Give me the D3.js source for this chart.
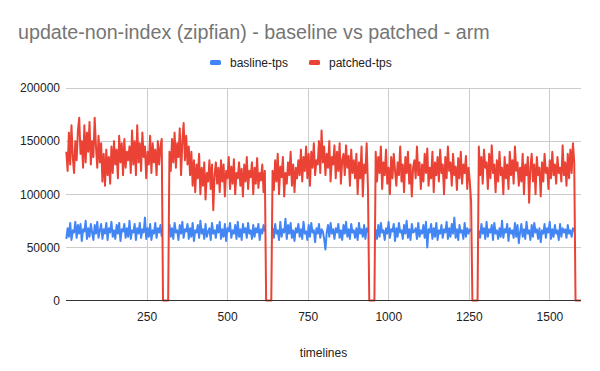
<!DOCTYPE html>
<html>
<head>
<meta charset="utf-8">
<script src="https://cdn.jsdelivr.net/npm/d3@7"></script>
<style>
  body { margin: 0; background: #fff; }
  text { font-family: Arial, "Liberation Sans", sans-serif; }
</style>
</head>
<body>
<div id="chartArea"></div>
<script>
const width = 600;
const height = 371;

// timelines are sampled every 4 units, starting at 1
const step = 4;

// values in thousands of tps
const baselineTps = [
  58,68,60,73,57,66,64,74,59,71,63,72,56,67,65,75,58,68,60,72,64,57,71,63,74,59,66,72,58,67,
  63,73,57,68,64,74,60,66,58,71,63,73,56,67,65,72,59,68,60,75,58,66,64,72,57,68,63,73,59,67,
  64,78,58,68,60,72,57,66,63,73,59,68,64,71,60,
  null,null,null,null,null,
  72,60,68,58,73,64,66,57,71,63,74,59,67,65,72,58,68,60,73,56,66,64,71,59,75,63,67,58,72,60,
  65,68,57,73,63,66,59,71,64,74,58,67,60,72,56,68,65,73,59,66,63,71,58,74,60,67,57,72,64,68,
  59,73,63,66,58,71,60,68,64,72,57,67,63,71,65,
  null,null,null,null,null,
  68,59,72,63,66,57,74,60,67,64,77,58,71,63,73,59,66,56,68,64,72,60,67,58,74,63,65,57,71,60,
  73,64,66,55,68,63,72,59,67,65,58,48,64,71,60,73,63,67,58,68,64,72,59,66,57,71,63,74,60,67,
  58,72,64,66,59,68,57,73,63,67,60,71,58,68,64,
  null,null,null,null,null,
  67,58,71,60,73,64,66,57,68,63,74,59,67,65,72,56,68,60,73,64,66,58,71,63,75,59,67,57,72,64,
  65,68,58,73,60,66,63,71,59,74,50,67,64,72,58,68,60,73,57,66,63,71,59,67,64,74,58,68,60,72,
  63,78,59,67,57,71,64,66,58,73,60,68,63,67,65,
  null,null,null,null,null,
  66,59,72,63,68,58,74,60,67,64,71,57,73,63,66,58,68,60,75,59,67,64,72,56,68,63,66,59,73,60,
  71,54,64,72,60,67,58,74,63,66,57,71,60,73,64,67,58,68,55,66,63,72,59,68,64,74,58,67,60,71,
  63,66,57,72,60,68,64,67,59,71,63,66,60,68,65,
  null,null,null,null,null
];

const patchedTps = [
  140,122,158,128,165,135,120,150,132,160,172,138,150,125,165,
  130,158,140,168,128,150,135,172,145,125,155,130,148,112,138,108,142,118,135,110,145,
  120,150,128,142,115,155,130,148,118,152,125,140,132,145,
  120,160,128,150,118,165,130,148,122,158,135,145,115,140,128,155,120,148,130,142,118,150,128,145,152,
  0,0,0,0,0,
  140,122,152,130,158,125,148,135,162,118,150,167,132,155,128,
  145,118,140,108,132,102,128,115,138,100,125,108,130,95,120,112,132,105,128,85,118,130,110,
  125,102,132,112,128,98,122,115,135,105,126,110,133,100,120,115,130,108,124,98,
  128,112,135,105,122,116,130,100,125,110,134,106,120,113,128,102,122,
  0,0,0,0,0,
  122,104,132,112,138,100,126,116,135,98,120,110,130,118,140,108,128,102,125,115,
  132,118,142,112,135,122,145,115,138,108,140,125,148,118,132,128,150,120,160,130,
  145,118,138,125,150,112,135,128,146,115,140,122,148,110,132,138,118,146,125,136,108,142,120,132,115,
  138,100,130,115,145,98,128,120,148,105,
  0,0,0,0,0,
  140,112,135,120,145,105,130,118,142,110,125,100,135,115,138,122,108,130,118,145,
  112,128,102,135,120,140,110,128,98,125,132,115,145,118,130,
  105,128,112,138,120,143,108,125,115,140,102,130,118,135,112,142,120,128,100,135,
  115,145,122,130,108,138,118,126,104,134,115,140,110,128,120,136,105,125,112,93,
  0,0,0,0,0,
  145,118,135,110,142,125,130,105,138,115,146,120,128,102,132,112,140,118,125,100,
  135,115,128,105,140,118,132,110,145,122,130,108,125,112,138,100,128,118,135,92,
  125,138,112,128,100,135,118,125,98,130,112,138,120,125,105,132,115,140,118,128,
  110,135,120,125,112,146,118,130,108,138,115,142,120,148,130,
  0,0,0,0,0
];

const timelines = d3.range(patchedTps.length).map(i => 1 + i * step);

const xTicks = [250, 500, 750, 1000, 1250, 1500];
const yTicks = [0, 50000, 100000, 150000, 200000];

const seriesNames = ["basline-tps", "patched-tps"];
const seriesColors = ["#4285f4", "#ea4335"];

const plot = { left: 66, right: 581, top: 88, bottom: 300.5 };

const svg = d3.select("#chartArea")
  .append("svg")
  .attr("width", width)
  .attr("height", height);

const x = d3.scaleLinear().domain([0, 1598]).range([plot.left, plot.right]);
const y = d3.scaleLinear().domain([0, 200000]).range([plot.bottom, plot.top]);

// title
svg.append("text")
  .attr("x", 18)
  .attr("y", 39)
  .attr("fill", "#757575")
  .style("font-size", "19.7px")
  .text("update-non-index (zipfian) - baseline vs patched - arm");

// legend
const legendX = [210, 309];
seriesNames.forEach((name, i) => {
  svg.append("rect")
    .attr("x", legendX[i])
    .attr("y", 60)
    .attr("width", 11)
    .attr("height", 5)
    .attr("rx", 1.5)
    .attr("fill", seriesColors[i]);
  svg.append("text")
    .attr("x", legendX[i] + 20)
    .attr("y", 66.5)
    .attr("fill", "#222")
    .style("font-size", "12px")
    .text(name);
});

// grid
svg.append("g")
  .selectAll("line")
  .data(yTicks.filter(d => d > 0))
  .enter().append("line")
  .attr("x1", plot.left).attr("x2", plot.right)
  .attr("y1", d => Math.round(y(d)) + 0.5).attr("y2", d => Math.round(y(d)) + 0.5)
  .attr("stroke", "#cccccc");

svg.append("g")
  .selectAll("line")
  .data(xTicks)
  .enter().append("line")
  .attr("x1", d => Math.round(x(d)) + 0.5).attr("x2", d => Math.round(x(d)) + 0.5)
  .attr("y1", plot.top).attr("y2", plot.bottom)
  .attr("stroke", "#cccccc");

// axis labels
const yAxis = d3.axisLeft(y).tickValues(yTicks).tickSize(0).tickPadding(6).tickFormat(d3.format("d"));
const yG = svg.append("g").attr("transform", `translate(${plot.left},0)`).call(yAxis);
yG.select(".domain").remove();
yG.selectAll("text").attr("fill", "#222").style("font-size", "12px").style("font-family", "Arial, 'Liberation Sans', sans-serif");

const xAxis = d3.axisBottom(x).tickValues(xTicks).tickSize(0).tickPadding(12).tickFormat(d3.format("d"));
const xG = svg.append("g").attr("transform", `translate(0,${plot.bottom})`).call(xAxis);
xG.select(".domain").remove();
xG.selectAll("text").attr("fill", "#222").style("font-size", "12px").style("font-family", "Arial, 'Liberation Sans', sans-serif");

svg.append("text")
  .attr("x", (plot.left + plot.right) / 2)
  .attr("y", 357)
  .attr("text-anchor", "middle")
  .attr("fill", "#222")
  .style("font-size", "12px")
  .text("timelines");

// lines
const series = [baselineTps, patchedTps];
series.forEach((values, i) => {
  const line = d3.line()
    .defined(d => d != null)
    .x((d, j) => x(timelines[j]))
    .y(d => y(d * 1000));
  svg.append("path")
    .datum(values)
    .attr("fill", "none")
    .attr("stroke", seriesColors[i])
    .attr("stroke-width", 2)
    .attr("stroke-linejoin", "round")
    .attr("d", line);
});

// baseline at zero
svg.append("line")
  .attr("x1", plot.left).attr("x2", plot.right)
  .attr("y1", plot.bottom).attr("y2", plot.bottom)
  .attr("stroke", "#333333")
  .attr("stroke-width", 1);
</script>
</body>
</html>
